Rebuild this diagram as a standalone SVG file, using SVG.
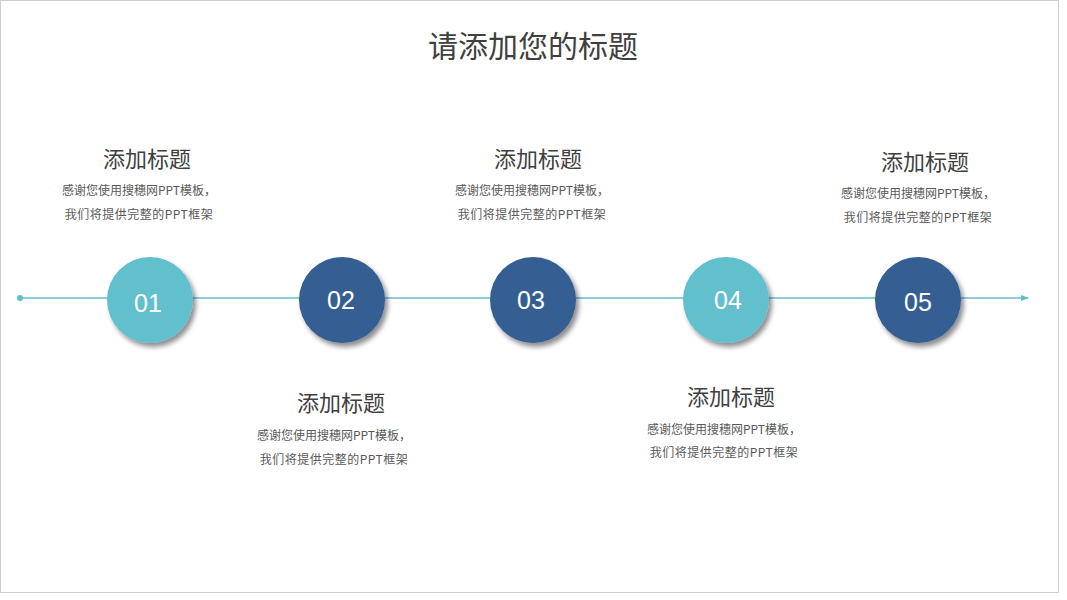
<svg xmlns="http://www.w3.org/2000/svg" width="1067" height="600" viewBox="0 0 1067 600">
<style>
.title{font-family:"Noto Sans CJK SC","Noto Sans CJK JP",sans-serif;fill:#404040;text-anchor:middle}
.h{font-size:22px}
.d{font-size:12px;fill:#595959}
.d2{letter-spacing:0.5px}
.num{font-family:"Liberation Sans",Arial,sans-serif;font-size:25px;fill:#ffffff;text-anchor:middle}
.lt{fill:#62bfcc}
.dk{fill:#355f92}
</style>
<defs>
<filter id="sh" x="-30%" y="-30%" width="170%" height="170%">
<feGaussianBlur in="SourceAlpha" stdDeviation="2.5"/>
<feOffset dx="3" dy="4" result="b"/>
<feComponentTransfer><feFuncA type="linear" slope="0.45"/></feComponentTransfer>
<feMerge><feMergeNode/><feMergeNode in="SourceGraphic"/></feMerge>
</filter>
<marker id="arr" markerWidth="8" markerHeight="6" refX="7" refY="3" orient="auto" markerUnits="userSpaceOnUse">
<path d="M0,0 L8,3 L0,6 z" fill="#62bfcc"/>
</marker>
</defs>
<rect x="0" y="0" width="1067" height="600" fill="#ffffff"/>
<rect x="0.5" y="0.5" width="1058" height="592" fill="none" stroke="#d0d0d0" stroke-width="1"/>
<text class="title" x="533" y="57" font-size="30">请添加您的标题</text>
<g id="connectors">
<circle cx="20" cy="298" r="3" fill="#62bfcc"/>
<line x1="20" y1="298" x2="1028" y2="298" stroke="#62bfcc" stroke-width="1.5" marker-end="url(#arr)"/>
</g>
<g id="node1">
<circle class="lt" cx="150" cy="300" r="43" filter="url(#sh)"/>
<text class="num" x="148" y="312">01</text>
<text class="title h" x="147" y="167">添加标题</text>
<text class="title d" x="139" y="195">感谢您使用搜穗网PPT模板，</text>
<text class="title d d2" x="139" y="219">我们将提供完整的PPT框架</text>
</g>
<g id="node2">
<circle class="dk" cx="342" cy="300" r="43" filter="url(#sh)"/>
<text class="num" x="341" y="309">02</text>
<text class="title h" x="341" y="411">添加标题</text>
<text class="title d" x="334" y="440">感谢您使用搜穗网PPT模板，</text>
<text class="title d d2" x="334" y="464">我们将提供完整的PPT框架</text>
</g>
<g id="node3">
<circle class="dk" cx="533" cy="300" r="43" filter="url(#sh)"/>
<text class="num" x="531" y="309">03</text>
<text class="title h" x="538" y="167">添加标题</text>
<text class="title d" x="532" y="195">感谢您使用搜穗网PPT模板，</text>
<text class="title d d2" x="532" y="219">我们将提供完整的PPT框架</text>
</g>
<g id="node4">
<circle class="lt" cx="726" cy="300" r="43" filter="url(#sh)"/>
<text class="num" x="728" y="309">04</text>
<text class="title h" x="731" y="405">添加标题</text>
<text class="title d" x="724" y="434">感谢您使用搜穗网PPT模板，</text>
<text class="title d d2" x="724" y="457">我们将提供完整的PPT框架</text>
</g>
<g id="node5">
<circle class="dk" cx="918" cy="300" r="43" filter="url(#sh)"/>
<text class="num" x="918" y="311">05</text>
<text class="title h" x="925" y="170">添加标题</text>
<text class="title d" x="918" y="198">感谢您使用搜穗网PPT模板，</text>
<text class="title d d2" x="918" y="222">我们将提供完整的PPT框架</text>
</g>
</svg>
